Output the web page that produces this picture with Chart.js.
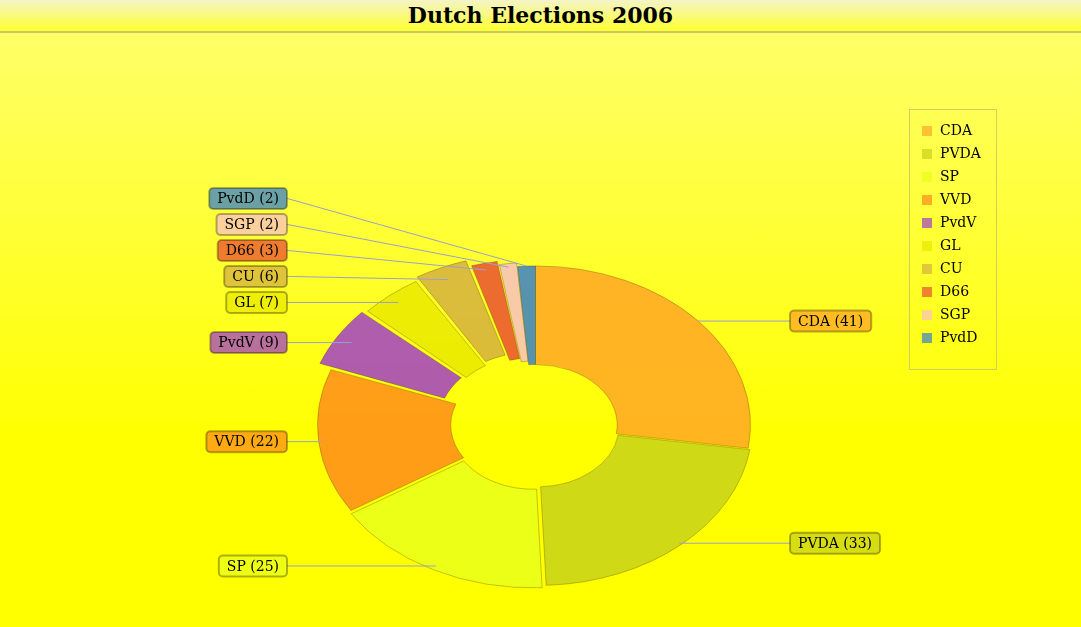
<!DOCTYPE html>
<html><head><meta charset="utf-8">
<script src="https://cdn.jsdelivr.net/npm/chart.js@4/dist/chart.umd.min.js"></script>
<style>
body{margin:0;width:1081px;height:627px;overflow:hidden;background:linear-gradient(#ffff70,#ffff00 70%);font-family:"DejaVu Serif",serif;}
#title{position:absolute;left:0;top:0;width:1081px;height:31px;background:linear-gradient(#f4f4c8,#ffff30);border-bottom:2px solid #c8c860;text-align:center;font:bold 22px "DejaVu Serif",serif;line-height:31px;color:#000}
#wrap{position:absolute;left:0;top:0;width:1081px;height:627px}
#legend{position:absolute;left:909px;top:109px;width:86px;height:250px;border:1px solid #d0d060;font-size:14px}
#legend div{height:23px;line-height:23px;padding-left:30px;position:relative;margin-top:0}
#legend span{position:absolute;left:12px;top:7px;width:10px;height:10px}
</style></head><body>
<div id="wrap"><canvas id="c" width="1081" height="627"></canvas></div>
<div id="title">Dutch Elections 2006</div>
<div id="legend"></div>
<script>
const parties = ['CDA','PVDA','SP','VVD','PvdV','GL','CU','D66','SGP','PvdD'];
const seats = [41,33,25,22,9,7,6,3,2,2];
const colors = ['#ffa726','#c8d21a','#e8ff1a','#ff8c1a','#a040c8','#e8e800','#d4b040','#e85030','#f8c0c0','#3a80c8'];
const offsets = [0,10,20,10,40,30,40,20,10,0];

const SQ = 0.74, CY = 425;

const lg = document.getElementById('legend');
lg.style.paddingTop='9px';
parties.forEach((p,i)=>{const d=document.createElement('div');d.innerHTML='<span style="background:'+colors[i]+';opacity:.7"></span>'+p;lg.appendChild(d);});

function ty(chart,y){const c=(chart.chartArea.top+chart.chartArea.bottom)/2;return CY+(y-c)*SQ;}

const squash = {
  id:'squash',
  beforeDatasetsDraw(chart){
    const ctx=chart.ctx, c=(chart.chartArea.top+chart.chartArea.bottom)/2;
    ctx.save();ctx.translate(0,CY);ctx.scale(1,SQ);ctx.translate(0,-c);
  },
  afterDatasetsDraw(chart){
    chart.ctx.restore();
    const ctx=chart.ctx, meta=chart.getDatasetMeta(0);
    const items=[];
    meta.data.forEach((arc,i)=>{
      const p=arc.getProps(['x','y','startAngle','endAngle','outerRadius'],true);
      const a=(p.startAngle+p.endAngle)/2, r=p.outerRadius;
      const px=p.x+Math.cos(a)*r, py=ty(chart,p.y+Math.sin(a)*r);
      items.push({i,px,py,right:Math.cos(a)>=0,y:py});
    });
    const left=items.filter(o=>!o.right).sort((a,b)=>b.y-a.y);
    for(let k=1;k<left.length;k++) if(left[k].y>left[k-1].y-26) left[k].y=left[k-1].y-26;
    ctx.save();
    ctx.font='14px "DejaVu Serif", serif';
    items.forEach(o=>{
      const txt=parties[o.i]+' ('+seats[o.i]+')';
      const w=ctx.measureText(txt).width+16, h=21;
      const bx=o.right?790:287-w;
      const by=o.y-h/2;
      ctx.strokeStyle='#9aa0d0';ctx.lineWidth=1;
      ctx.beginPath();ctx.moveTo(o.px,o.py);
      ctx.lineTo(o.right?bx:bx+w,o.y);ctx.stroke();
      ctx.fillStyle=colors[o.i];ctx.globalAlpha=0.75;
      ctx.beginPath();ctx.roundRect(bx,by,w,h,4);ctx.fill();
      ctx.globalAlpha=1;ctx.strokeStyle='rgba(0,0,0,0.3)';ctx.lineWidth=2;ctx.stroke();
      ctx.fillStyle='#000';ctx.textBaseline='middle';
      ctx.fillText(txt,bx+8,o.y+1);
    });
    ctx.restore();
  }
};

new Chart(document.getElementById('c'),{
  type:'doughnut',
  data:{labels:parties,datasets:[{data:seats,backgroundColor:colors.map(c=>c+'d8'),borderColor:'rgba(80,60,0,0.35)',borderWidth:1,offset:offsets}]},
  options:{responsive:false,animation:false,cutout:'38%',
    layout:{padding:{left:300,right:310,top:30,bottom:120}},
    plugins:{legend:{display:false},tooltip:{enabled:false}}},
  plugins:[squash]
});
</script></body></html>
